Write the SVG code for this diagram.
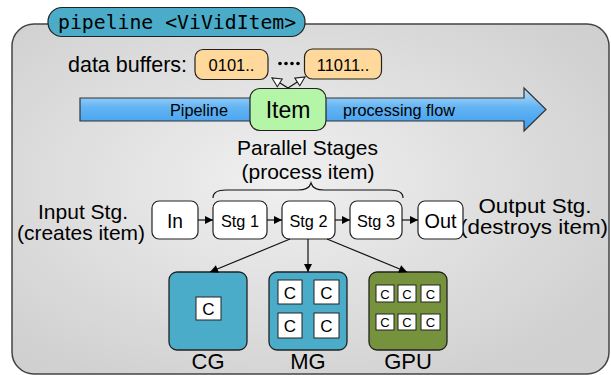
<svg xmlns="http://www.w3.org/2000/svg" width="611" height="375" viewBox="0 0 611 375">
<defs>
<radialGradient id="bg" cx="45%" cy="45%" r="65%">
<stop offset="0" stop-color="#f0f0f0"/>
<stop offset="1" stop-color="#d0d0d0"/>
</radialGradient>
<linearGradient id="blue" x1="0" y1="0" x2="0" y2="1">
<stop offset="0" stop-color="#bfe0f9"/>
<stop offset="0.45" stop-color="#63b4f3"/>
<stop offset="1" stop-color="#3c9bee"/>
</linearGradient>
<marker id="fill" viewBox="0 0 10 10" refX="10" refY="5" markerWidth="9" markerHeight="8" markerUnits="userSpaceOnUse" orient="auto">
<path d="M0,0 L10,5 L0,10 Z" fill="#000"/>
</marker>
<marker id="open" viewBox="0 0 12 12" refX="11" refY="6" markerWidth="11" markerHeight="11" markerUnits="userSpaceOnUse" orient="auto">
<path d="M1,1 L11,6 L1,11 Z" fill="#fff" stroke="#222" stroke-width="1.2"/>
</marker>
</defs>
<style>
.t{font-family:"Liberation Sans",Arial,sans-serif;fill:#000}
.box{stroke:#222;stroke-width:1.2}
.node{fill:#fff;stroke:#222;stroke-width:1.2}
.buf{fill:#fed99b;stroke:#222;stroke-width:1.2}
.hw{fill:#4aacc8;stroke:#222;stroke-width:1.3}
.gpu{fill:#76923c;stroke:#222;stroke-width:1.3}
.core{fill:#fff;stroke:#222;stroke-width:1}
.edge{stroke:#111;stroke-width:1.2;fill:none}
</style>

<g id="container">
<rect x="12" y="24" width="597" height="350" rx="22" fill="url(#bg)" stroke="#444" stroke-width="1.5"/>
</g>
<g id="title">
<rect x="48" y="7.5" width="257" height="29" rx="14" class="box" fill="#4aacc8"/>
<text x="58" y="29" font-family="'DejaVu Sans Mono',monospace" font-size="19.8" fill="#000">pipeline &lt;ViVidItem&gt;</text>
</g>

<g id="buffers-label">
<text class="t" x="68" y="72" font-size="22" textLength="119" lengthAdjust="spacingAndGlyphs">data buffers:</text>
</g>
<g id="buf1">
<rect class="buf" x="195" y="49.5" width="73" height="30" rx="8"/>
<text class="t" x="231.5" y="71" font-size="16.5" text-anchor="middle">0101..</text>
</g>
<g id="dots" fill="#000">
<circle cx="280" cy="63.5" r="1.8"/><circle cx="286" cy="63.5" r="1.8"/><circle cx="292" cy="63.5" r="1.8"/><circle cx="298" cy="63.5" r="1.8"/>
</g>
<g id="buf2">
<rect class="buf" x="304.5" y="49" width="77" height="30" rx="8"/>
<text class="t" x="343" y="71" font-size="16.5" text-anchor="middle">11011..</text>
</g>

<g id="pipeline-arrow">
<path d="M80,98 L524,98 L524,88 L546,109.5 L524,131 L524,121 L80,121 Z" fill="url(#blue)" stroke="#333" stroke-width="1.2"/>
<text class="t" x="170" y="116" font-size="16.5" textLength="58" lengthAdjust="spacingAndGlyphs">Pipeline</text>
<text class="t" x="343" y="116" font-size="16.5" textLength="112" lengthAdjust="spacingAndGlyphs">processing flow</text>
</g>

<g id="item">
<rect x="250" y="88.5" width="76" height="42" rx="10" fill="#b5f5a8" stroke="#222" stroke-width="1.2"/>
<text class="t" x="288" y="118" font-size="23" text-anchor="middle">Item</text>
</g>

<g id="stages-label">
<text class="t" x="307.5" y="155" font-size="21" text-anchor="middle" textLength="141" lengthAdjust="spacingAndGlyphs">Parallel Stages</text>
<text class="t" x="308" y="179" font-size="21" text-anchor="middle">(process item)</text>
<path class="edge" d="M213,198 Q213,190 226,190 L298,190 Q309,190 311,183 Q313,190 324,190 L390,190 Q403,190 403,198" stroke-width="1"/>
</g>

<g id="input-label">
<text class="t" x="83" y="218.5" font-size="21" text-anchor="middle" textLength="90" lengthAdjust="spacingAndGlyphs">Input Stg.</text>
<text class="t" x="81" y="240" font-size="21" text-anchor="middle" textLength="128" lengthAdjust="spacingAndGlyphs">(creates item)</text>
</g>
<g id="output-label">
<text class="t" x="535" y="212.5" font-size="21" text-anchor="middle" textLength="113" lengthAdjust="spacingAndGlyphs">Output Stg.</text>
<text class="t" x="534" y="234" font-size="21" text-anchor="middle" textLength="148" lengthAdjust="spacingAndGlyphs">(destroys item)</text>
</g>

<g id="in"><rect class="node" x="152" y="201" width="46" height="38" rx="7"/><text class="t" x="175" y="228" font-size="21" text-anchor="middle" textLength="16" lengthAdjust="spacingAndGlyphs">In</text></g>
<g id="stg1"><rect class="node" x="213" y="201" width="54" height="38" rx="7"/><text class="t" x="240" y="226.5" font-size="17" text-anchor="middle" textLength="38" lengthAdjust="spacingAndGlyphs">Stg 1</text></g>
<g id="stg2"><rect class="node" x="282" y="201" width="53" height="38" rx="7"/><text class="t" x="308.5" y="226.5" font-size="17" text-anchor="middle" textLength="38" lengthAdjust="spacingAndGlyphs">Stg 2</text></g>
<g id="stg3"><rect class="node" x="350" y="201" width="52" height="38" rx="7"/><text class="t" x="376" y="226.5" font-size="17" text-anchor="middle" textLength="38" lengthAdjust="spacingAndGlyphs">Stg 3</text></g>
<g id="out"><rect class="node" x="418" y="201" width="45" height="38" rx="7"/><text class="t" x="440.5" y="228" font-size="21" text-anchor="middle" textLength="32" lengthAdjust="spacingAndGlyphs">Out</text></g>

<g id="cg">
<rect class="hw" x="169" y="272" width="78" height="78" rx="8"/>
<rect class="core" x="196" y="297" width="25" height="23"/>
<text class="t" x="208.5" y="314.5" font-size="17" text-anchor="middle">C</text>
<text class="t" x="208" y="368.5" font-size="22" text-anchor="middle">CG</text>
</g>
<g id="mg">
<rect class="hw" x="269" y="272" width="78" height="78" rx="8"/>
<rect class="core" x="278" y="280" width="24" height="24"/>
<rect class="core" x="314" y="280" width="25" height="24"/>
<rect class="core" x="278" y="313" width="24" height="25"/>
<rect class="core" x="314" y="313" width="25" height="25"/>
<text class="t" x="290" y="298.5" font-size="17" text-anchor="middle">C</text>
<text class="t" x="326.5" y="298.5" font-size="17" text-anchor="middle">C</text>
<text class="t" x="290" y="331.5" font-size="17" text-anchor="middle">C</text>
<text class="t" x="326.5" y="331.5" font-size="17" text-anchor="middle">C</text>
<text class="t" x="308" y="368.5" font-size="22" text-anchor="middle">MG</text>
</g>
<g id="gpu">
<rect class="gpu" x="369" y="272" width="78" height="78" rx="8"/>
<rect class="core" x="376" y="285" width="18" height="17"/>
<rect class="core" x="398" y="285" width="18" height="17"/>
<rect class="core" x="421" y="285" width="19" height="17"/>
<rect class="core" x="376" y="314" width="18" height="16"/>
<rect class="core" x="398" y="314" width="18" height="16"/>
<rect class="core" x="421" y="314" width="19" height="16"/>
<text class="t" x="385" y="298.5" font-size="13" text-anchor="middle">C</text>
<text class="t" x="407" y="298.5" font-size="13" text-anchor="middle">C</text>
<text class="t" x="430.5" y="298.5" font-size="13" text-anchor="middle">C</text>
<text class="t" x="385" y="327" font-size="13" text-anchor="middle">C</text>
<text class="t" x="407" y="327" font-size="13" text-anchor="middle">C</text>
<text class="t" x="430.5" y="327" font-size="13" text-anchor="middle">C</text>
<text class="t" x="408" y="368.5" font-size="22" text-anchor="middle">GPU</text>
</g>

<g id="connectors">
<line class="edge" x1="288" y1="88" x2="272" y2="78" marker-end="url(#open)"/>
<line class="edge" x1="288" y1="88" x2="305" y2="77" marker-end="url(#open)"/>
<line class="edge" x1="198" y1="220" x2="213" y2="220" marker-end="url(#fill)"/>
<line class="edge" x1="267" y1="220" x2="282" y2="220" marker-end="url(#fill)"/>
<line class="edge" x1="335" y1="220" x2="350" y2="220" marker-end="url(#fill)"/>
<line class="edge" x1="402" y1="220" x2="418" y2="220" marker-end="url(#fill)"/>
<line class="edge" x1="290" y1="239" x2="210" y2="272" marker-end="url(#fill)"/>
<line class="edge" x1="308" y1="239" x2="308" y2="272" marker-end="url(#fill)"/>
<line class="edge" x1="327" y1="239" x2="407" y2="272" marker-end="url(#fill)"/>
</g>
</svg>
